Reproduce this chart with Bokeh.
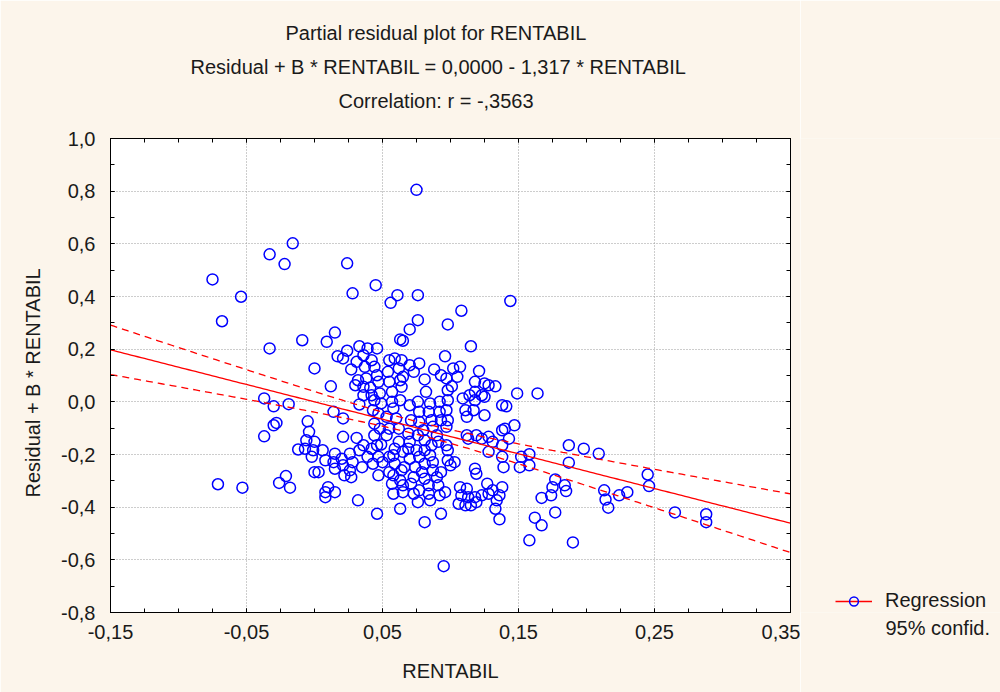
import numpy as np
from bokeh.plotting import figure
from bokeh.layouts import row
from bokeh.models import (Range1d, FixedTicker, CustomJSTickFormatter, LinearAxis,
                          Legend, LegendItem, Title)
from bokeh.embed import file_html
from bokeh.resources import INLINE

# ---- data ----
rentabil = [
    -0.075, -0.054, -0.068, -0.033, -0.022, -0.016, -0.033, -0.009, -0.037, -0.030,
    -0.019, -0.028, -0.030, -0.037, -0.005, -0.004, -0.006, -0.007, -0.012, -0.071,
    -0.053, -0.026, -0.021, -0.018,
    0.000, 0.009, 0.015, 0.012, 0.028, 0.045, 0.061, 0.056, 0.024, 0.063,
    0.065, 0.033, 0.039, 0.046, 0.024, 0.017, 0.021, 0.036, 0.042, 0.031,
    0.037, 0.044, 0.027, 0.055, 0.059, 0.064, 0.054, 0.062, 0.032, 0.038,
    0.046, 0.047, 0.036, 0.041, 0.030, 0.042, 0.036, 0.048, 0.055, 0.063,
    0.065, 0.057, 0.064,
    0.075, 0.076, 0.108, 0.076, 0.070, 0.098, 0.115, 0.096, 0.070, 0.077,
    0.073, 0.088, 0.093, 0.097, 0.102, 0.107, 0.105, 0.101, 0.098, 0.081,
    0.082, 0.121, 0.118, 0.125, 0.128, 0.133, 0.118, 0.123, 0.114,
    0.033, 0.014, 0.021, 0.021, 0.031, 0.000, -0.001, 0.006, -0.002, 0.008,
    0.015, 0.020, 0.026, 0.033, 0.036, 0.042, 0.046, 0.049, 0.039, 0.047,
    0.043, 0.050, 0.035, 0.028, 0.021, 0.026, 0.015, 0.014, 0.022, 0.027,
    0.003, 0.000, 0.010, 0.015, 0.008, 0.008, 0.032, 0.046, 0.044, 0.049,
    0.057, 0.058, 0.063, 0.043, 0.047, 0.053, 0.060, 0.044, 0.048, 0.055,
    0.062, 0.044, 0.053, 0.062, 0.059, 0.058, 0.065, 0.055, 0.059, 0.055,
    0.064, 0.058, 0.063, 0.057, 0.065, 0.058, 0.065, 0.063, 0.047,
    0.076, 0.070, 0.085, 0.092, 0.098, 0.109, 0.118, 0.125, 0.111, 0.117,
    0.125, 0.112, 0.138, 0.077, 0.084, 0.092, 0.097, 0.071, 0.077, 0.086,
    0.093, 0.098, 0.097, 0.087, 0.080, 0.069, 0.076, 0.070, 0.081, 0.086,
    0.091, 0.090, 0.097, 0.098, 0.112, 0.113, 0.119, 0.123, 0.128, 0.131,
    0.128, 0.138, 0.138, 0.069, 0.075, 0.081, 0.070, 0.077, 0.085, 0.074,
    0.081, 0.087, 0.066, 0.079, 0.087, 0.073, 0.081, 0.090, 0.093, 0.071,
    0.084, 0.091, 0.077, 0.073, 0.084, 0.096, 0.092, 0.085, 0.076, 0.098,
    0.103, 0.100, 0.118, 0.119, 0.127, 0.107, 0.112, 0.108, 0.106, 0.113,
    0.118, 0.119, 0.123, 0.128, 0.131, 0.134, 0.136, 0.138, 0.133, 0.111,
    0.115, 0.138, 0.139, 0.136, 0.093, 0.081, 0.095,
    0.144, 0.149, 0.164, 0.141, 0.140, 0.147, 0.143, 0.152, 0.158, 0.151,
    0.158, 0.187, 0.198, 0.209, 0.187, 0.177, 0.184, 0.175, 0.185, 0.174,
    0.167, 0.177, 0.162, 0.167, 0.158, 0.190, 0.213, 0.224, 0.230, 0.214,
    0.216, 0.245, 0.246, 0.265, 0.288, 0.288,
]
residual = [
    0.465, 0.399, 0.306, 0.560, 0.523, 0.602, 0.203, 0.234, 0.013, -0.017,
    -0.009, -0.080, -0.089, -0.131, -0.074, -0.114, -0.146, -0.178, -0.181, -0.313,
    -0.326, -0.308, -0.282, -0.326,
    0.127, 0.228, 0.263, 0.059, 0.412, 0.443, 0.405, 0.376, 0.526, 0.237,
    0.232, 0.211, 0.203, 0.203, 0.194, 0.173, 0.165, 0.177, 0.158, 0.152,
    0.133, 0.133, 0.123, 0.158, 0.165, 0.158, 0.114, 0.127, 0.082, 0.089,
    0.101, 0.076, 0.057, 0.054, 0.063, 0.025, 0.025, 0.032, 0.076, 0.082,
    0.095, 0.038, 0.057,
    0.805, 0.405, 0.346, 0.310, 0.275, 0.294, 0.211, 0.173, 0.139, 0.146,
    0.114, 0.123, 0.101, 0.089, 0.127, 0.133, 0.095, 0.059, 0.044, 0.085,
    0.038, 0.117, 0.076, 0.070, 0.063, 0.059, 0.038, 0.025, 0.025,
    -0.010, -0.038, -0.063, -0.133, -0.137, -0.152, -0.184, -0.184, -0.209, -0.222,
    -0.197, -0.216, -0.197, -0.184, -0.165, -0.178, -0.165, -0.162, -0.209, -0.209,
    -0.235, -0.229, -0.248, -0.229, -0.241, -0.260, -0.254, -0.229, -0.279, -0.286,
    -0.267, -0.267, -0.324, -0.343, -0.343, -0.362, -0.374, -0.425, 0.006, -0.006,
    0.000, -0.025, 0.006, -0.032, -0.044, -0.057, -0.063, -0.083, -0.102, -0.102,
    -0.102, -0.127, -0.127, -0.152, -0.178, -0.203, -0.190, -0.209, -0.235, -0.267,
    -0.260, -0.279, -0.298, -0.311, -0.317, -0.349, -0.343, -0.406, -0.279,
    0.000, -0.013, -0.006, 0.000, 0.006, 0.013, 0.006, 0.019, -0.032, -0.032,
    -0.051, -0.057, -0.013, -0.038, -0.038, -0.038, -0.032, -0.070, -0.076, -0.070,
    -0.070, -0.070, -0.095, -0.095, -0.108, -0.121, -0.127, -0.152, -0.146, -0.165,
    -0.152, -0.127, -0.165, -0.184, -0.127, -0.140, -0.127, -0.140, -0.133, -0.152,
    -0.190, -0.165, -0.108, -0.178, -0.184, -0.184, -0.216, -0.209, -0.203, -0.248,
    -0.235, -0.229, -0.248, -0.267, -0.260, -0.286, -0.292, -0.286, -0.267, -0.311,
    -0.317, -0.317, -0.336, -0.349, -0.349, -0.343, -0.355, -0.374, -0.381, -0.222,
    -0.229, -0.241, -0.254, -0.273, -0.311, -0.324, -0.330, -0.355, -0.387, -0.362,
    -0.362, -0.381, -0.355, -0.349, -0.336, -0.374, -0.355, -0.324, -0.406, -0.393,
    -0.393, -0.209, -0.248, -0.446, -0.425, -0.457, -0.624,
    0.383, 0.032, 0.032, -0.017, -0.102, -0.089, -0.140, -0.209, -0.199, -0.248,
    -0.241, -0.165, -0.178, -0.197, -0.231, -0.295, -0.317, -0.324, -0.339, -0.355,
    -0.365, -0.420, -0.440, -0.469, -0.526, -0.534, -0.336, -0.355, -0.343, -0.371,
    -0.402, -0.276, -0.320, -0.420, -0.427, -0.457,
]
intercept = 0.0
slope = -1.317
x_ticks = [-0.15, -0.05, 0.05, 0.15, 0.25, 0.35]
y_ticks = [-0.8, -0.6, -0.4, -0.2, 0.0, 0.2, 0.4, 0.6, 0.8, 1.0]
title_lines = ["Partial residual plot for RENTABIL",
               "Residual + B * RENTABIL = 0,0000 - 1,317 * RENTABIL",
               "Correlation: r = -,3563"]
x_title = "RENTABIL"
y_title = "Residual + B * RENTABIL"
legend_labels = ["Regression", "95% confid."]

FONT = "Liberation Sans"
FS = "20px"
BG = "#FCF5EB"
TXT = "#1a1a1a"
RED = "#FF0000"
BLUE = "#0000FF"

x = np.array(rentabil)
y = np.array(residual)

p = figure(width=800, height=692, x_range=Range1d(-0.15, 0.35), y_range=Range1d(-0.8, 1.0),
           output_backend="svg", toolbar_location=None, title_location=None,
           min_border_left=110, min_border_right=10, min_border_top=138, min_border_bottom=80)
p.border_fill_color = BG
p.background_fill_color = "white"
p.outline_line_color = "black"
p.outline_line_width = 1
p.xaxis.visible = False
p.yaxis.visible = False

x_minor = list(np.round(np.arange(-0.15, 0.3501, 0.025), 4))
y_minor = list(np.round(np.arange(-0.8, 1.0001, 0.1), 4))

xfmt = CustomJSTickFormatter(code="return tick.toFixed(2).replace('.', ',');")
yfmt = CustomJSTickFormatter(code="return tick.toFixed(1).replace('.', ',');")


def style(ax):
    ax.axis_line_color = "black"
    ax.major_tick_in = 4
    ax.major_tick_out = 0
    ax.minor_tick_in = 4
    ax.minor_tick_out = 0
    ax.major_tick_line_color = "black"
    ax.minor_tick_line_color = "black"
    ax.major_label_text_font = FONT
    ax.major_label_text_font_size = FS
    ax.major_label_text_color = TXT


bx = LinearAxis(ticker=FixedTicker(ticks=x_ticks, minor_ticks=x_minor), formatter=xfmt,
                axis_label=x_title)
style(bx)
bx.major_label_standoff = 12
bx.axis_label_standoff = 18
bx.axis_label_text_font = FONT
bx.axis_label_text_font_size = FS
bx.axis_label_text_font_style = "normal"
bx.axis_label_text_color = TXT
p.add_layout(bx, "below")
ly = LinearAxis(ticker=FixedTicker(ticks=y_ticks, minor_ticks=y_minor), formatter=yfmt)
style(ly)
ly.major_label_standoff = 15
p.add_layout(ly, "left")
tx = LinearAxis(ticker=FixedTicker(ticks=x_ticks, minor_ticks=x_minor),
                formatter=CustomJSTickFormatter(code="return ' ';"))
style(tx)
tx.major_label_standoff = 8
tx.major_label_text_font_size = "10px"
p.add_layout(tx, "above")
ry = LinearAxis(ticker=FixedTicker(ticks=y_ticks, minor_ticks=y_minor),
                formatter=CustomJSTickFormatter(code="return '';"))
style(ry)
ry.major_label_standoff = 0
ry.major_label_text_font_size = "0px"
p.add_layout(ry, "right")

p.xgrid.ticker = FixedTicker(ticks=x_ticks)
p.ygrid.ticker = FixedTicker(ticks=y_ticks)
for g in (p.xgrid, p.ygrid):
    g.grid_line_color = "#9a9a9a"
    g.grid_line_dash = "1 2"
    g.grid_line_width = 1

# points
p.scatter(x, y, size=11, marker="circle", fill_color=None, line_color=BLUE, line_width=1.5)

# regression line and 95% confidence band for the mean
xs = np.linspace(-0.15, 0.35, 201)
fit = intercept + slope * xs
n = len(x)
res = y - (intercept + slope * x)
s = np.sqrt(np.sum(res ** 2) / (n - 2))
xbar = x.mean()
sxx = np.sum((x - xbar) ** 2)
half = 1.968 * s * np.sqrt(1.0 / n + (xs - xbar) ** 2 / sxx)
p.line(xs, fit, line_color=RED, line_width=1.3)
p.line(xs, fit + half, line_color=RED, line_width=1.3, line_dash="7 5")
p.line(xs, fit - half, line_color=RED, line_width=1.3, line_dash="7 5")

# titles (left-aligned with offsets so that they centre near x = 435), nearest first
title_offsets = [175, 80, 228]
for t, off in reversed(list(zip(title_lines, title_offsets))):
    p.add_layout(Title(text=t, align="left", offset=off, standoff=10, text_font=FONT,
                       text_font_size=FS, text_font_style="normal", text_color=TXT), "above")

p.add_layout(Title(text=y_title, align="left", offset=115, standoff=30, text_font=FONT,
                   text_font_size=FS, text_font_style="normal", text_color=TXT), "left")

# legend panel on the right (its frame lines up with the main frame)
q = figure(width=200, height=692, x_range=Range1d(0, 1), y_range=Range1d(0, 1),
           output_backend="svg", toolbar_location=None, title_location=None,
           x_axis_location=None, y_axis_location=None,
           min_border_left=0, min_border_right=0, min_border_top=0, min_border_bottom=0)
q.border_fill_color = BG
q.background_fill_color = BG
q.outline_line_color = None
q.xgrid.visible = False
q.ygrid.visible = False
leg_line = q.line([np.nan], [np.nan], line_color=RED, line_width=1.3)
leg_pts = q.scatter([np.nan], [np.nan], size=11, marker="circle", fill_color=None,
                    line_color=BLUE, line_width=1.5)
legend = Legend(items=[LegendItem(label=legend_labels[0], renderers=[leg_line, leg_pts])],
                location=(35, 0), padding=0, margin=0,
                glyph_width=37, glyph_height=22, label_height=22,
                label_standoff=13, background_fill_alpha=0, border_line_alpha=0,
                label_text_font=FONT, label_text_font_size=FS, label_text_color=TXT)
q.add_layout(legend, "center")
q.add_layout(Title(text=legend_labels[1], align="left", offset=85, standoff=4, text_font=FONT,
                   text_font_size=FS, text_font_style="normal", text_color=TXT), "below")

layout = row(p, q, spacing=0)
open("out.html", "w").write(file_html(layout, INLINE))
